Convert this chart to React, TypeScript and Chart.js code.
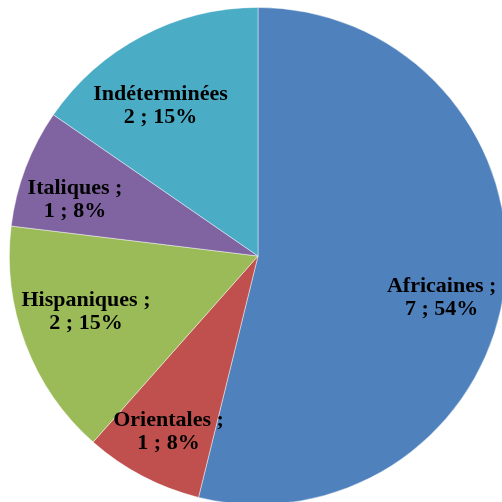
import React, { useEffect, useRef } from "react";
import { Chart, registerables } from "chart.js";

Chart.register(...registerables);

const categories = ["Africaines", "Orientales", "Hispaniques", "Italiques", "Indéterminées"];
const counts = [7, 1, 2, 1, 2];
const percentLabels = ["54%", "8%", "15%", "8%", "15%"];
const firstLineSuffix = [" ;", " ;", " ;", " ;", ""];

const colors = ["#4F81BD", "#C0504D", "#9BBB59", "#8064A2", "#4BACC6"];
// label placement tweaks (style only)
const labelNudge: [number, number][] = [
  [1, 20],
  [-4, 13],
  [0, -9],
  [-11, 9],
  [-12, 13],
];

const labelPlugin = {
  id: "sliceLabels",
  afterDatasetsDraw(chart: any) {
    const ctx = chart.ctx;
    const meta = chart.getDatasetMeta(0);
    ctx.save();
    ctx.font = "bold 22px 'Liberation Serif', 'Times New Roman', serif";
    ctx.fillStyle = "#000000";
    ctx.textAlign = "center";
    ctx.textBaseline = "middle";
    meta.data.forEach((arc: any, i: number) => {
      const p = arc.getProps(["x", "y", "startAngle", "endAngle", "outerRadius"], true);
      const mid = (p.startAngle + p.endAngle) / 2;
      const d = p.outerRadius * 0.74;
      const cx = p.x + Math.cos(mid) * d + labelNudge[i][0];
      const cy = p.y + Math.sin(mid) * d + labelNudge[i][1];
      ctx.fillText(categories[i] + firstLineSuffix[i], cx, cy - 11.5);
      ctx.fillText(counts[i] + " ; " + percentLabels[i], cx, cy + 11.5);
    });
    ctx.restore();
  },
};

export default function App() {
  const ref = useRef<HTMLCanvasElement | null>(null);
  useEffect(() => {
    if (!ref.current) return;
    const chart = new Chart(ref.current, {
      type: "pie",
      data: {
        labels: categories,
        datasets: [
          {
            data: counts,
            backgroundColor: colors,
            borderColor: "rgba(255,255,255,0.55)",
            borderWidth: 0.8,
          },
        ],
      },
      options: {
        responsive: false,
        animation: false,
        layout: { padding: { left: 9, top: 7, right: 13, bottom: 15 } },
        plugins: {
          legend: { display: false },
          tooltip: { enabled: false },
        },
      },
      plugins: [labelPlugin],
    });
    return () => chart.destroy();
  }, []);
  return (
    <div
      style={{
        position: "fixed",
        left: 0,
        top: 0,
        width: 502,
        height: 502,
        overflow: "hidden",
        background: "#ffffff",
      }}
    >
      <canvas ref={ref} width={520} height={520} style={{ width: 520, height: 520, display: "block" }} />
    </div>
  );
}
